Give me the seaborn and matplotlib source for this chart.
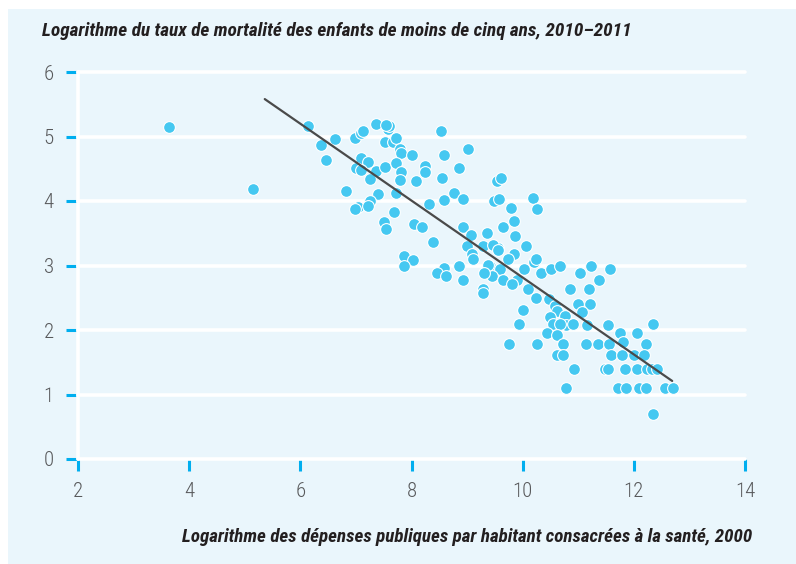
import matplotlib
matplotlib.use("Agg")
import matplotlib.pyplot as plt
from matplotlib.patches import Rectangle
from matplotlib import font_manager
import seaborn as sns
import pandas as pd

# Data
spend_log = [
    3.64, 5.14, 6.13, 6.37, 6.62, 6.47, 6.99, 7.09, 7.12, 7.36,
    7.57, 7.60, 7.55, 7.53, 7.67, 7.72, 7.79, 7.82, 8.01, 8.53,
    8.59, 7.10, 7.22, 7.00, 7.09, 7.37, 7.52, 7.72, 7.81, 8.24,
    8.24, 8.08, 7.80, 7.26, 8.54, 6.82, 7.39, 7.72, 7.25, 7.04,
    6.98, 7.21, 7.69, 7.51, 7.55, 8.05, 8.19, 8.32, 8.58, 8.39,
    9.02, 8.86, 8.77, 8.92, 9.54, 9.61, 9.48, 9.58, 9.79, 10.18,
    10.25, 9.84, 9.65, 8.92, 9.07, 9.35, 9.87, 9.29, 9.56, 9.47,
    10.06, 9.85, 9.74, 9.41, 9.60, 9.44, 9.65, 10.20, 10.24, 10.02,
    10.33, 10.51, 10.67, 9.89, 9.81, 10.10, 10.24, 9.28, 9.29, 10.01,
    9.93, 11.03, 11.23, 11.58, 11.37, 11.20, 10.85, 10.48, 10.58, 10.62,
    10.99, 11.21, 11.06, 10.50, 10.55, 10.76, 10.78, 10.67, 10.91, 11.16,
    11.54, 11.75, 11.81, 10.43, 10.61, 9.75, 10.26, 10.73, 11.14, 11.35,
    11.56, 10.62, 10.72, 11.59, 11.78, 12.35, 12.05, 12.22, 12.01, 12.19,
    10.92, 11.48, 11.54, 11.84, 12.05, 12.23, 12.32, 12.42, 10.78, 11.72,
    11.86, 12.10, 12.22, 12.56, 12.70, 12.35, 7.87, 8.03, 7.87, 8.58,
    8.45, 8.62, 8.86, 8.92, 8.99, 9.08, 9.11, 9.38, 9.30, 9.56,
]
mortality_log = [
    5.14, 4.19, 5.17, 4.87, 4.96, 4.64, 4.97, 5.05, 5.08, 5.19,
    5.11, 5.16, 5.18, 4.91, 4.91, 4.97, 4.80, 4.74, 4.71, 5.09,
    4.71, 4.66, 4.60, 4.51, 4.48, 4.46, 4.52, 4.59, 4.45, 4.54,
    4.45, 4.31, 4.32, 4.34, 4.35, 4.15, 4.11, 4.13, 4.00, 3.91,
    3.88, 3.93, 3.83, 3.67, 3.56, 3.64, 3.59, 3.95, 4.02, 3.37,
    4.80, 4.51, 4.12, 4.03, 4.31, 4.36, 4.00, 4.03, 3.89, 4.05,
    3.87, 3.69, 3.59, 3.59, 3.47, 3.50, 3.45, 3.31, 3.27, 3.32,
    3.30, 3.18, 3.10, 3.00, 2.94, 2.83, 2.78, 3.05, 3.10, 2.94,
    2.89, 2.94, 3.00, 2.78, 2.72, 2.63, 2.49, 2.63, 2.57, 2.31,
    2.09, 2.89, 3.00, 2.95, 2.78, 2.63, 2.64, 2.48, 2.37, 2.29,
    2.40, 2.40, 2.28, 2.20, 2.09, 2.22, 2.08, 2.09, 2.09, 2.08,
    2.08, 1.95, 1.81, 1.95, 1.93, 1.79, 1.79, 1.79, 1.79, 1.79,
    1.79, 1.61, 1.61, 1.61, 1.61, 2.09, 1.95, 1.79, 1.61, 1.61,
    1.39, 1.39, 1.39, 1.39, 1.39, 1.39, 1.39, 1.39, 1.10, 1.10,
    1.10, 1.10, 1.10, 1.10, 1.10, 0.70, 3.14, 3.09, 3.00, 2.96,
    2.89, 2.84, 3.00, 2.78, 3.30, 3.18, 3.10, 3.01, 2.89, 3.24,
]
fit_x = [5.36, 12.69]
fit_y = [5.58, 1.21]
x_ticks = [2, 4, 6, 8, 10, 12, 14]
y_ticks = [0, 1, 2, 3, 4, 5, 6]
title = "Logarithme du taux de mortalité des enfants de moins de cinq ans, 2010–2011"
xlabel = "Logarithme des dépenses publiques par habitant consacrées à la santé, 2000"

df = pd.DataFrame({"x": spend_log, "y": mortality_log})

sns.set_theme(style="white")

# pick a narrow family if one is installed
installed = {f.name for f in font_manager.fontManager.ttflist}
narrow = [n for n in ["Liberation Sans Narrow", "Roboto Condensed",
                      "Open Sans Condensed", "DejaVu Sans Condensed"] if n in installed]
fam = narrow + ["DejaVu Sans"]
plt.rcParams["font.family"] = fam
has_narrow = len(narrow) > 0

PANEL = "#EAF6FC"
TICK = "#00AEEF"
DOT = "#45C8F1"

fig = plt.figure(figsize=(7.96, 5.64), dpi=100, facecolor="white")
fig.patches.append(Rectangle((8 / 796, 0), 1 - 8 / 796, 1 - 9 / 564,
                             transform=fig.transFigure, facecolor=PANEL,
                             edgecolor="none", zorder=-10))
ax = fig.add_axes([78 / 796, 1 - 459 / 564, (745 - 78) / 796, (459 - 72) / 564])
ax.set_facecolor("none")

ax.set_xlim(2, 14)
ax.set_ylim(0, 6)
ax.set_xticks(x_ticks)
ax.set_yticks(y_ticks)

for yv in y_ticks:
    ax.axhline(yv, color="white", lw=2.6, zorder=1, clip_on=False)
ax.axvline(2, color="white", lw=2.6, zorder=1, clip_on=False)

for s in ax.spines.values():
    s.set_visible(False)

sns.scatterplot(data=df, x="x", y="y", ax=ax, color=DOT, s=72,
                edgecolor="white", linewidth=0.8, alpha=1, zorder=3, legend=False)
sns.lineplot(x=fit_x, y=fit_y, ax=ax, color="#4a4a4a", lw=1.6, zorder=4)

tick_size = 15 if has_narrow else 12.5
ax.tick_params(axis="y", which="major", left=True, length=8.5, width=2.2,
               color=TICK, pad=9, labelsize=tick_size, labelcolor="#58595b")
ax.tick_params(axis="x", which="major", bottom=True, length=8.5, width=2.2,
               color=TICK, pad=8, labelsize=tick_size, labelcolor="#58595b")
for lab in ax.get_xticklabels() + ax.get_yticklabels():
    lab.set_fontstretch("condensed")
    lab.set_fontweight("light")
ax.set_xlabel("")
ax.set_ylabel("")

title_size = 13.85 if has_narrow else 9.6
xlabel_size = 13.65 if has_narrow else 9.6
fig.text(42 / 796, 1 - 31 / 564, title, ha="left", va="center",
         fontsize=title_size, fontweight="bold", fontstyle="italic",
         fontstretch="condensed", color="#231f20")
fig.text(752 / 796, 1 - 537 / 564, xlabel, ha="right", va="center",
         fontsize=xlabel_size, fontweight="bold", fontstyle="italic",
         fontstretch="condensed", color="#231f20")

fig.savefig("out.png", dpi=100, facecolor="white")
